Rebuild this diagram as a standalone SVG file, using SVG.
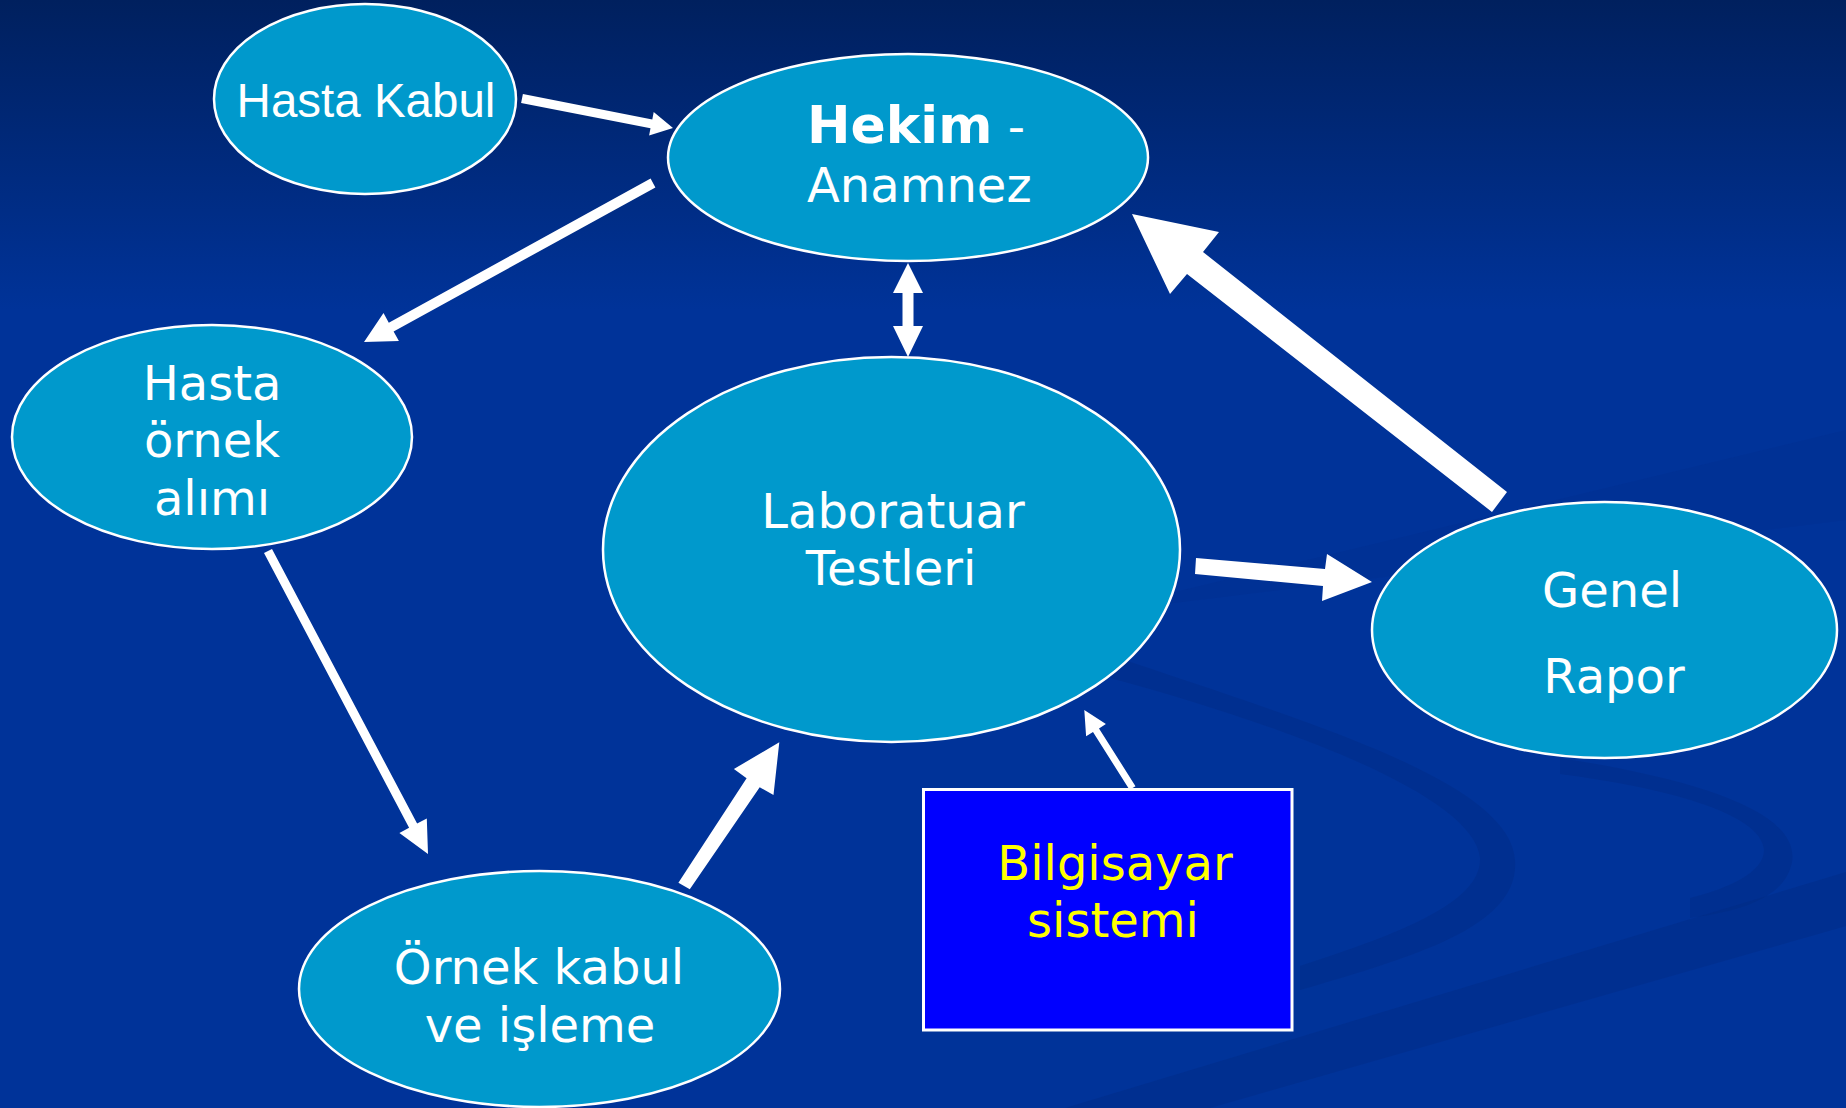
<svg xmlns="http://www.w3.org/2000/svg" width="1846" height="1108" viewBox="0 0 1846 1108">
  <defs>
    <linearGradient id="bg" x1="0" y1="0" x2="0" y2="1">
      <stop offset="0" stop-color="#00205e"/>
      <stop offset="0.28" stop-color="#003399"/>
      <stop offset="1" stop-color="#003399"/>
    </linearGradient>
  </defs>
  <style>
    .node { fill: #0099cc; stroke: #ffffff; stroke-width: 2.5; }
    .box { fill: #0000ff; stroke: #ffffff; stroke-width: 3; }
    .arrow { fill: #ffffff; stroke: none; }
    .lbl { font-family: "DejaVu Sans", Verdana, sans-serif; font-size: 48px; fill: #ffffff; text-anchor: middle; }
    .arial { font-family: "Liberation Sans", Arial, sans-serif; font-size: 47.5px; fill: #ffffff; text-anchor: middle; }
    .yellow { fill: #ffff00; }
    .swoosh { fill: #002a80; opacity: 0.38; }
  </style>

  <!-- background -->
  <rect x="0" y="0" width="1846" height="1108" fill="url(#bg)"/>
  <g id="decor">
    <path class="swoosh" d="M1150,598 L1846,430 L1846,520 L1150,606 Z" style="opacity:0.15"/>
    <path class="swoosh" d="M1110,655 C1300,720 1510,780 1515,860 C1520,925 1420,955 1300,990 L1300,966 C1400,934 1482,902 1480,858 C1474,794 1280,724 1110,678 Z"/>
    <path class="swoosh" d="M1560,758 C1700,780 1800,812 1792,862 C1785,900 1735,912 1690,918 L1690,898 C1730,888 1764,872 1764,850 C1762,812 1660,787 1560,774 Z"/>
    <path class="swoosh" d="M1846,872 L1846,926 L1210,1108 L1065,1108 Z"/>
  </g>

  <!-- connectors -->
  <g id="connectors">
    <polygon class="arrow" points="521.1,102.9 650.5,128.2 649.1,135.6 673,128 653.7,112 652.3,119.4 522.9,94.1"/>
    <polygon class="arrow" points="650.6,178.6 388.8,322.7 383.5,313.1 364,342 398.9,341.1 393.6,331.5 655.4,187.4"/>
    <polygon class="arrow" points="908,263 923,293 913.5,293 913.5,326 923,326 908,357 893,326 902.5,326 902.5,293 893,293"/>
    <polygon class="arrow" points="1492,512 1187,274 1170,294 1132,214 1219,232 1203,252 1507,492"/>
    <polygon class="arrow" points="1196,558 1325,569 1327,554 1372,582 1322,601 1323,586 1195,574"/>
    <polygon class="arrow" points="264,553.1 409.1,827.8 399.4,832.9 428,854 426.8,818.5 417.1,823.6 272,548.9"/>
    <polygon class="arrow" points="678.4,882.7 746.6,778.3 733.9,769 779.3,742.3 773.5,795 759.7,787.3 689.8,889.3"/>
    <polygon class="arrow" points="1129.5,789.8 1093,732 1086.1,736.3 1084.3,710 1105.9,724.1 1099,728.4 1135.5,786.2"/>
  </g>

  <!-- nodes -->
  <g id="hasta-kabul">
    <ellipse class="node" cx="365" cy="99" rx="151" ry="95"/>
    <text class="arial" x="366" y="117">Hasta Kabul</text>
  </g>
  <g id="hekim">
    <ellipse class="node" cx="908" cy="157.5" rx="240" ry="103.5"/>
    <text class="lbl" x="807" y="143" style="text-anchor:start"><tspan font-weight="bold" font-size="52">Hekim</tspan> -</text>
    <text class="lbl" x="807" y="202" style="text-anchor:start">Anamnez</text>
  </g>
  <g id="hasta-ornek">
    <ellipse class="node" cx="212" cy="437" rx="200" ry="112"/>
    <text class="lbl" x="212" y="400">Hasta</text>
    <text class="lbl" x="212" y="457">örnek</text>
    <text class="lbl" x="212" y="515">alımı</text>
  </g>
  <g id="laboratuar">
    <ellipse class="node" cx="891.5" cy="549.5" rx="288.5" ry="192.5"/>
    <text class="lbl" x="893" y="528">Laboratuar</text>
    <text class="lbl" x="891" y="585">Testleri</text>
  </g>
  <g id="genel-rapor">
    <ellipse class="node" cx="1604.5" cy="630" rx="232.5" ry="128"/>
    <text class="lbl" x="1612" y="607">Genel</text>
    <text class="lbl" x="1614" y="693">Rapor</text>
  </g>
  <g id="ornek-kabul">
    <ellipse class="node" cx="539.5" cy="989" rx="240.5" ry="118"/>
    <text class="lbl" x="539" y="984">Örnek kabul</text>
    <text class="lbl" x="540" y="1042">ve işleme</text>
  </g>
  <g id="bilgisayar">
    <rect class="box" x="923.5" y="789.5" width="368.5" height="240.5"/>
    <text class="lbl yellow" x="1115" y="880">Bilgisayar</text>
    <text class="lbl yellow" x="1113" y="937">sistemi</text>
  </g>
</svg>
